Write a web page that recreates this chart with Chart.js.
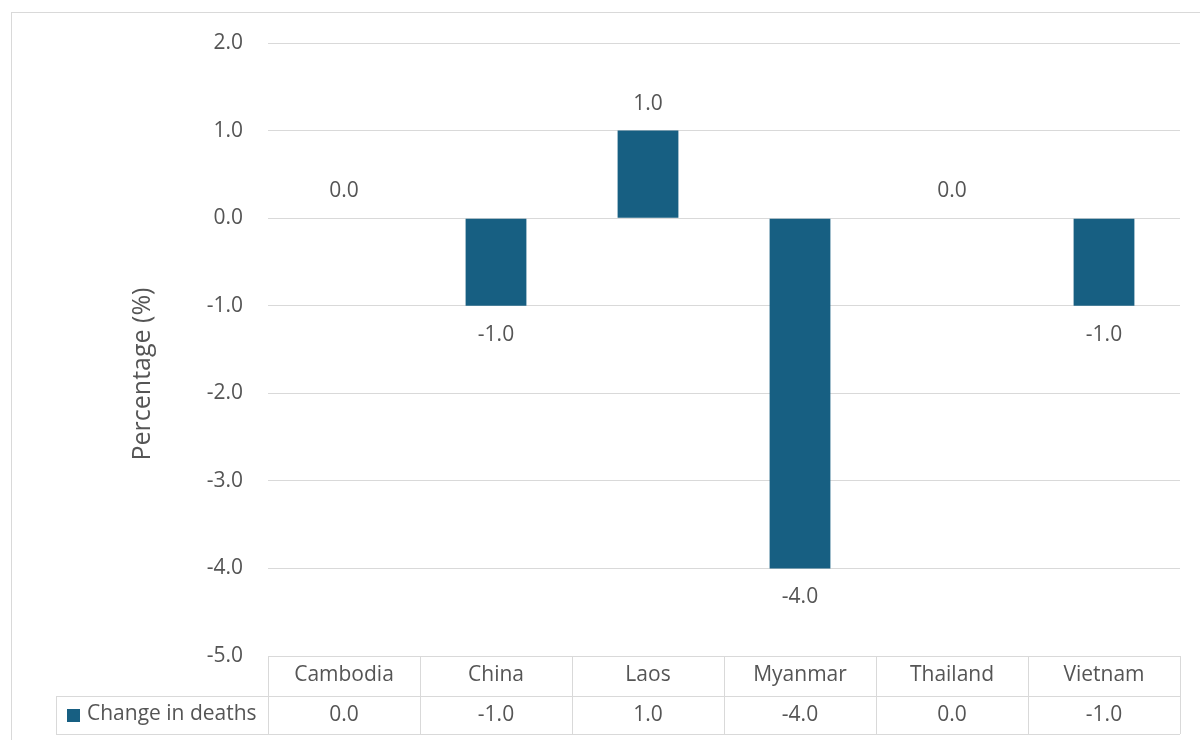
<!DOCTYPE html>
<html lang="en">
<head>
    <meta charset="UTF-8">
    <title>Change in deaths</title>
    <script src="https://cdn.jsdelivr.net/npm/chart.js"></script>
    <style>
        body { margin: 0; background: #ffffff; }
        canvas { display: block; }
    </style>
</head>
<body>
    <canvas id="deathsChart" width="1200" height="740"></canvas>
    <script>
        const countries = ['Cambodia', 'China', 'Laos', 'Myanmar', 'Thailand', 'Vietnam'];
        const changeInDeaths = [0.0, -1.0, 1.0, -4.0, 0.0, -1.0];
        const seriesName = 'Change in deaths';
        const axisTitle = 'Percentage (%)';

        const textColor = '#555555';
        const gridColor = '#d9d9d9';
        const barColor = '#175f82';
        const fontFamily = '"Open Sans", "Noto Sans", sans-serif';
        const fontSize = 21;

        // outer frame + y axis title (Excel centres it a bit lower than the plot)
        const framePlugin = {
            id: 'frame',
            beforeDraw(chart) {
                const ctx = chart.ctx;
                ctx.save();
                ctx.strokeStyle = gridColor;
                ctx.lineWidth = 1;
                ctx.strokeRect(11.5, 12.5, 1200, 740);
                ctx.translate(143, 374);
                ctx.rotate(-Math.PI / 2);
                ctx.font = '25px ' + fontFamily;
                ctx.fillStyle = textColor;
                ctx.textAlign = 'center';
                ctx.textBaseline = 'middle';
                ctx.fillText(axisTitle, 0, 0);
                ctx.restore();
            }
        };

        // value labels above / below the bars
        const valueLabels = {
            id: 'valueLabels',
            afterDatasetsDraw(chart) {
                const ctx = chart.ctx;
                const meta = chart.getDatasetMeta(0);
                ctx.save();
                ctx.font = fontSize + 'px ' + fontFamily;
                ctx.fillStyle = textColor;
                ctx.textAlign = 'center';
                ctx.textBaseline = 'middle';
                meta.data.forEach((bar, i) => {
                    const v = changeInDeaths[i];
                    const y = v >= 0 ? bar.y - 27 : bar.y + 29;
                    ctx.fillText(v.toFixed(1), bar.x, y);
                });
                ctx.restore();
            }
        };

        // Excel style data table under the plot
        const dataTable = {
            id: 'dataTable',
            afterDraw(chart) {
                const ctx = chart.ctx;
                const xs = chart.scales.x;
                const area = chart.chartArea;
                const step = (area.right - area.left) / countries.length;
                const top = area.bottom;
                const mid = top + 40;
                const bottom = top + 78;
                const keyLeft = 56;

                ctx.save();
                ctx.strokeStyle = gridColor;
                ctx.lineWidth = 1;
                ctx.beginPath();
                ctx.moveTo(keyLeft, mid + 0.5);
                ctx.lineTo(area.right, mid + 0.5);
                ctx.moveTo(keyLeft, bottom + 0.5);
                ctx.lineTo(area.right, bottom + 0.5);
                ctx.moveTo(keyLeft + 0.5, mid);
                ctx.lineTo(keyLeft + 0.5, bottom);
                for (let i = 0; i <= countries.length; i++) {
                    const x = Math.round(area.left + i * step) + 0.5;
                    ctx.moveTo(x, top);
                    ctx.lineTo(x, bottom);
                }
                ctx.stroke();

                ctx.font = fontSize + 'px ' + fontFamily;
                ctx.fillStyle = textColor;
                ctx.textAlign = 'center';
                ctx.textBaseline = 'middle';
                countries.forEach((c, i) => {
                    const x = xs.getPixelForValue(i);
                    ctx.fillText(c, x, top + 19);
                    ctx.fillText(changeInDeaths[i].toFixed(1), x, mid + 19);
                });

                ctx.fillStyle = barColor;
                ctx.fillRect(67, mid + 13, 13, 13);
                ctx.fillStyle = textColor;
                ctx.textAlign = 'left';
                ctx.fillText(seriesName, 87, mid + 18);
                ctx.restore();
            }
        };

        new Chart(document.getElementById('deathsChart'), {
            type: 'bar',
            data: {
                labels: countries,
                datasets: [{
                    label: seriesName,
                    data: changeInDeaths,
                    backgroundColor: barColor,
                    categoryPercentage: 1.0,
                    barPercentage: 0.4
                }]
            },
            options: {
                responsive: false,
                animation: false,
                layout: {
                    padding: { left: 0, top: 43, right: 20, bottom: 84 }
                },
                plugins: {
                    legend: { display: false },
                    tooltip: { enabled: false }
                },
                scales: {
                    x: {
                        display: false
                    },
                    y: {
                        min: -5,
                        max: 2,
                        afterFit(scale) { scale.width = 268; },
                        border: { display: false },
                        grid: { color: gridColor, drawTicks: false },
                        ticks: {
                            stepSize: 1,
                            padding: 25,
                            color: textColor,
                            font: { size: fontSize, family: fontFamily },
                            callback: v => Number(v).toFixed(1)
                        }
                    }
                }
            },
            plugins: [framePlugin, valueLabels, dataTable]
        });
    </script>
</body>
</html>
